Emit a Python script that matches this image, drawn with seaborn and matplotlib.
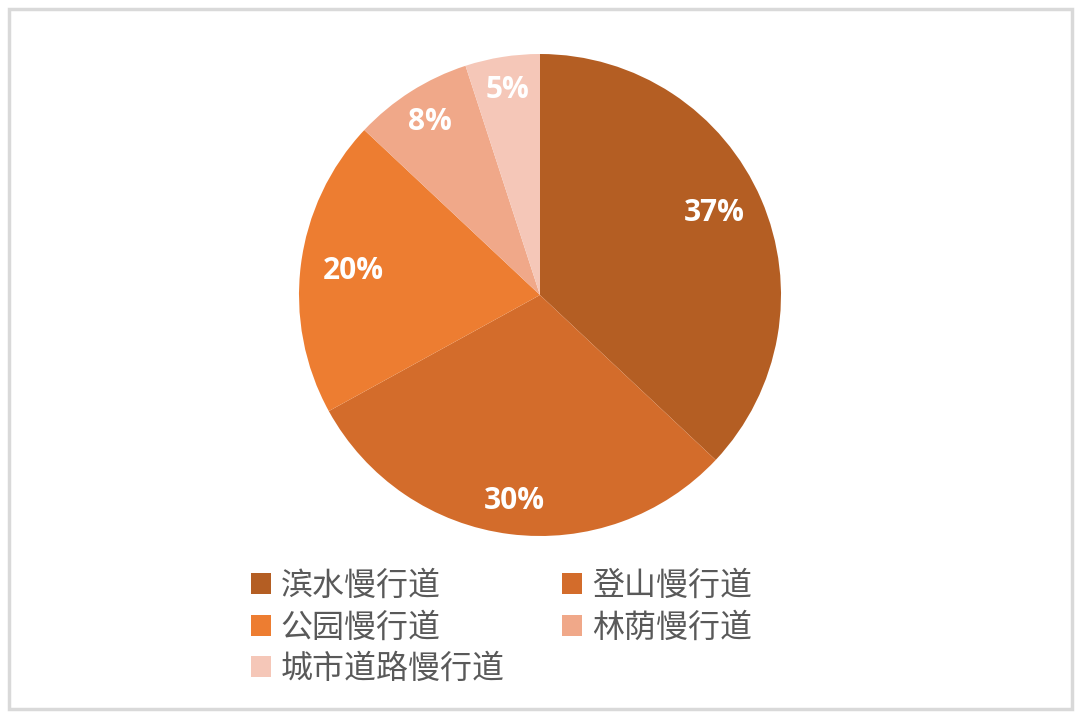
import matplotlib
matplotlib.use("Agg")
import matplotlib.pyplot as plt
import seaborn as sns
import numpy as np
from matplotlib.patches import Rectangle

categories = ["滨水慢行道", "登山慢行道", "公园慢行道", "林荫慢行道", "城市道路慢行道"]
values = [37, 30, 20, 8, 5]
pct_labels = ["37%", "30%", "20%", "8%", "5%"]
colors = ["#B45E23", "#D36C2B", "#ED7D31", "#F0A889", "#F5C7B8"]
label_dist = [0.79, 0.86, 0.78, 0.85, 0.86]
label_dy = [0.025, 0.0, 0.0, 0.0, 0.0]

sns.set_theme(style="white")
plt.rcParams['font.family'] = ['Noto Sans CJK SC', 'DejaVu Sans']

W, H = 1080, 717
fig = plt.figure(figsize=(W / 100, H / 100), dpi=100)
fig.patch.set_facecolor("white")

cx, cy, r = 540, 295, 241
ax = fig.add_axes([(cx - r) / W, (H - cy - r) / H, 2 * r / W, 2 * r / H])
wedges, _ = ax.pie(values, colors=colors, startangle=90, counterclock=False,
                   radius=1, wedgeprops=dict(linewidth=0))
ax.set_xlim(-1, 1)
ax.set_ylim(-1, 1)
ax.set_aspect("equal")
ax.axis("off")

for w, lab, d, dy in zip(wedges, pct_labels, label_dist, label_dy):
    ang = np.deg2rad((w.theta1 + w.theta2) / 2)
    ax.text(d * np.cos(ang), d * np.sin(ang) + dy, lab, ha="center",
            va="center",
            color="white", fontsize=21.5, fontweight="bold",
            family=["Open Sans", "DejaVu Sans"])

order = [0, 2, 4, 1, 3]
leg = fig.legend([wedges[i] for i in order], [categories[i] for i in order],
                 ncol=2, loc="upper left",
                 bbox_to_anchor=(251 / W, 1 - 570 / H),
                 frameon=False, fontsize=23, labelcolor="#595959",
                 handlelength=0.63, handleheight=0.63, handletextpad=0.3,
                 columnspacing=1.8, labelspacing=0.3, borderpad=0, borderaxespad=0)

fig.add_artist(Rectangle((9 / W, 1 - 709 / H), (1063 / W), (700 / H),
                         transform=fig.transFigure, fill=False,
                         edgecolor="#D9D9D9", linewidth=2.5))

fig.savefig("out.png", dpi=100, facecolor="white")
